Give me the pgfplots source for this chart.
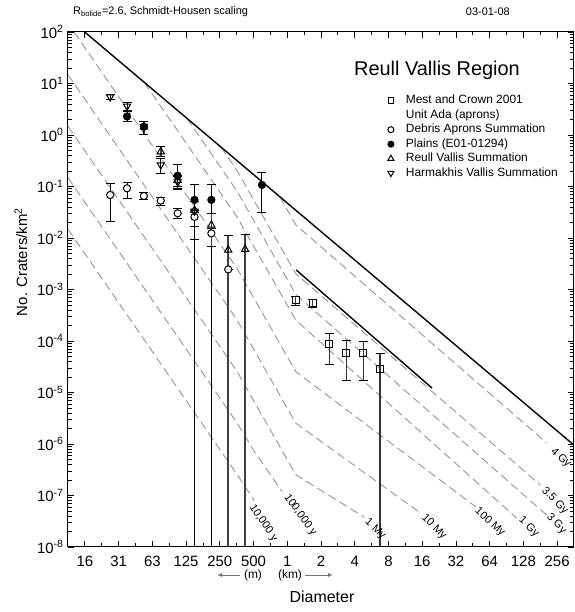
\documentclass[border=0pt]{standalone}
\usepackage{fontspec}
\setmainfont{Liberation Sans}
\usepackage{pgfplots}
\pgfplotsset{compat=1.18}
\usetikzlibrary{arrows.meta}
\begin{document}
\begin{tikzpicture}[x=1bp,y=1bp, lab/.style={font=\fontsize{11}{12}\selectfont, inner sep=0pt}]
\begin{axis}[
  at={(0bp,0bp)}, anchor=south west,
  scale only axis, width=506bp, height=515bp,
  xmin=-6.5, xmax=8.5, ymin=-8, ymax=2,
  xtick={-6,-5,-4,-3,-2,-1,0,1,2,3,4,5,6,7,8},
  xticklabels={16,31,63,125,250,500,1,2,4,8,16,32,64,128,256},
  minor xtick={-5.5,-4.5,-3.5,-2.5,-1.5,-0.5,0.5,1.5,2.5,3.5,4.5,5.5,6.5,7.5},
  ytick={-8,-7,-6,-5,-4,-3,-2,-1,0,1,2},
  yticklabels={10\textsuperscript{-8},10\textsuperscript{-7},10\textsuperscript{-6},10\textsuperscript{-5},10\textsuperscript{-4},10\textsuperscript{-3},10\textsuperscript{-2},10\textsuperscript{-1},10\textsuperscript{0},10\textsuperscript{1},10\textsuperscript{2}},
  minor ytick={-7.699,-7.523,-7.398,-7.301,-7.222,-7.155,-7.097,-7.046,
  -6.699,-6.523,-6.398,-6.301,-6.222,-6.155,-6.097,-6.046,
  -5.699,-5.523,-5.398,-5.301,-5.222,-5.155,-5.097,-5.046,
  -4.699,-4.523,-4.398,-4.301,-4.222,-4.155,-4.097,-4.046,
  -3.699,-3.523,-3.398,-3.301,-3.222,-3.155,-3.097,-3.046,
  -2.699,-2.523,-2.398,-2.301,-2.222,-2.155,-2.097,-2.046,
  -1.699,-1.523,-1.398,-1.301,-1.222,-1.155,-1.097,-1.046,
  -0.699,-0.523,-0.398,-0.301,-0.222,-0.155,-0.097,-0.046,
  0.301,0.477,0.602,0.699,0.778,0.845,0.903,0.954,
  1.301,1.477,1.602,1.699,1.778,1.845,1.903,1.954},
  tick align=inside,
  major tick length=6bp, minor tick length=3.5bp,
  every tick/.style={black, line width=0.8bp},
  axis line style={line width=1bp},
  tick label style={font=\fontsize{15}{15}\selectfont},
  xticklabel style={yshift=-6bp},
  yticklabel style={xshift=-1bp},
  iso/.style={color=black!42, line width=0.9bp, dash pattern=on 8.5bp off 4.5bp, forget plot},
  sat/.style={black, line width=1.4bp, forget plot},
  legend style={at={(0.618,0.885)}, anchor=north west, draw=none, fill=none,
    font=\fontsize{12}{14}\selectfont, row sep=0pt,
    nodes={inner ysep=1bp, text height=9.5bp, text depth=3bp}},
  legend cell align=left,
  legend image code/.code={\path[draw=none] (0bp,0bp) -- (20bp,0bp); \draw[#1] plot coordinates {(7bp,0bp)};},
  error bars/error bar style={black, line width=1bp},
  error bars/error mark options={rotate=90, black, mark size=4.5bp, line width=1bp},
]
% isochrons
\addplot[iso] coordinates {(-6.5,-1.83) (-6,-2.305) (-5,-3.255) (-4,-4.205) (-3,-5.155) (-2,-6.105) (-1.5,-6.58) (-0.976,-7.10)};
\addplot[iso] coordinates {(-6.5,-0.83) (-6,-1.305) (-5,-2.255) (-4,-3.205) (-3,-4.155) (-2,-5.105) (-1.5,-5.58) (-1,-6.12) (-0.15,-6.93)};
\addplot[iso] coordinates {(-6.5,0.17) (-6,-0.305) (-5,-1.255) (-4,-2.205) (-3,-3.155) (-2,-4.105) (-1.5,-4.58) (-1,-5.155) (-0.5,-5.73) (0,-6.305) (0.26,-6.60) (2.28,-7.42)};
\addplot[iso] coordinates {(-6.5,1.17) (-6,0.695) (-5,-0.255) (-4,-1.205) (-3,-2.155) (-2,-3.105) (-1.5,-3.58) (-1,-4.155) (-0.5,-4.73) (0,-5.305) (0.26,-5.60) (3.905,-7.32)};
\addplot[iso] coordinates {(-6.32,2) (-6,1.695) (-5,0.745) (-4,-0.205) (-3,-1.155) (-2,-2.105) (-1.5,-2.58) (-1,-3.155) (-0.5,-3.73) (0,-4.305) (0.26,-4.60) (5.59,-7.22)};
\addplot[iso] coordinates {(-4.24,1.02) (-4,0.795) (-3,-0.155) (-2,-1.105) (-1.5,-1.58) (-1,-2.155) (-0.5,-2.73) (0,-3.305) (0.26,-3.60) (6.80,-7.44)};
\addplot[iso] coordinates {(-2.98,0.327) (-2,-0.605) (-1.5,-1.08) (-1,-1.655) (-0.5,-2.23) (0,-2.805) (0.26,-3.10) (7.69,-7.38)};
\addplot[iso] coordinates {(-1.975,-0.229) (-1.5,-0.68) (-1,-1.255) (-0.5,-1.83) (0,-2.405) (0.26,-2.70) (7.51,-6.80)};
\addplot[iso] coordinates {(-0.224,-1.197) (0,-1.455) (0.26,-1.75) (7.69,-5.98)};
% saturation lines
\addplot[sat] coordinates {(-6.006,2) (8.5,-6.022)};
\addplot[sat] coordinates {(0.266,-2.621) (4.29,-4.913)};
% data
\addplot[forget plot, only marks, mark=square, mark size=3.5bp, mark options={fill=white, line width=1bp}, error bars/.cd, y dir=both, y explicit, error bar style={black!80, line width=1.1bp}]
 table[x=u, y=v, y error plus=ep, y error minus=em] {
u v ep em
0.25 -3.204 0.06 0.10
0.75 -3.256 0.06 0.10
1.25 -4.06 0.20 0.39
1.75 -4.24 0.25 0.53
2.25 -4.24 0.23 0.53
2.75 -4.54 0.30 10
};
\addplot[forget plot, only marks, mark=*, mark size=3.6bp, mark options={fill=white, line width=1bp}, error bars/.cd, y dir=both, y explicit]
 table[x=u, y=v, y error plus=ep, y error minus=em] {
u v ep em
-5.25 -1.165 0.225 0.52
-4.75 -1.035 0.11 0.19
-4.25 -1.184 0.064 0.076
-3.75 -1.275 0.065 0.085
-3.25 -1.52 0.10 0.10
-2.75 -1.59 0.13 0.44
-2.25 -1.91 0.10 0.26
-1.75 -2.61 0 0
};
\addplot[forget plot, only marks, mark=*, mark size=3.6bp, mark options={fill=black, line width=1bp}, error bars/.cd, y dir=both, y explicit]
 table[x=u, y=v, y error plus=ep, y error minus=em] {
u v ep em
-4.75 0.36 0.11 0.10
-4.25 0.16 0.10 0.16
-3.25 -0.79 0.21 0.25
-2.75 -1.26 0.29 10
-2.25 -1.26 0.29 10
-0.75 -0.97 0.24 0.53
};
\addplot[forget plot, only marks, mark=triangle, mark size=4.2bp, mark options={fill=white, line width=1bp}, error bars/.cd, y dir=both, y explicit, error bar style={black!75, line width=1.6bp}]
 table[x=u, y=v, y error plus=ep, y error minus=em] {
u v ep em
-4.25 0.16 0.10 0.16
-3.75 -0.324 0.097 0.097
-3.25 -0.88 0.10 0.12
-2.75 -1.46 0.16 0.32
-2.25 -1.75 0.22 0.42
-1.75 -2.233 0.29 10
-1.25 -2.22 0.28 10
};
\addplot[forget plot, only marks, mark=triangle, mark size=4.2bp, mark options={rotate=180, fill=white, line width=1bp}, error bars/.cd, y dir=both, y explicit]
 table[x=u, y=v, y error plus=ep, y error minus=em] {
u v ep em
-5.25 0.74 0.05 0.06
-4.75 0.56 0.07 0.10
-4.25 0.16 0.10 0.16
-3.75 -0.58 0.13 0.16
-3.25 -0.91 0.11 0.14
-2.75 -1.48 0.18 0.30
};
% legend
\addlegendimage{only marks, mark=square, mark size=2.8bp, mark options={fill=white, line width=1bp}}
\addlegendentry{Mest and Crown 2001}
\addlegendimage{empty legend}
\addlegendentry{Unit Ada (aprons)}
\addlegendimage{only marks, mark=*, mark size=3bp, mark options={fill=white, line width=1bp}}
\addlegendentry{Debris Aprons Summation}
\addlegendimage{only marks, mark=*, mark size=3bp, mark options={fill=black, line width=1bp}}
\addlegendentry{Plains (E01-01294)}
\addlegendimage{only marks, mark=triangle, mark size=3.5bp, mark options={fill=white, line width=1bp}}
\addlegendentry{Reull Vallis Summation}
\addlegendimage{only marks, mark=triangle, mark size=3.5bp, mark options={rotate=180, fill=white, line width=1bp}}
\addlegendentry{Harmakhis Vallis Summation}
% isochron labels
\node[lab, rotate=-56] at (axis cs:-0.71,-7.534) {10,000 y};
\node[lab, rotate=-54] at (axis cs:0.385,-7.379) {100,000 y};
\node[lab, rotate=-42] at (axis cs:2.604,-7.650) {1 My};
\node[lab, rotate=-44] at (axis cs:4.349,-7.612) {10 My};
\node[lab, rotate=-42] at (axis cs:6.006,-7.515) {100 My};
\node[lab, rotate=-44] at (axis cs:7.16,-7.612) {1 Gy};
\node[lab, rotate=-46] at (axis cs:7.98,-7.55) {3 Gy};
\node[lab, rotate=-45] at (axis cs:7.93,-7.10) {3.5 Gy};
\node[lab, rotate=-42] at (axis cs:8.107,-6.27) {4 Gy};
\end{axis}
% texts outside
\node[font=\fontsize{20}{22}\selectfont] at (369bp,477bp) {Reull Vallis Region};
\node[anchor=west, font=\fontsize{11}{12}\selectfont, inner sep=0pt] at (5bp,535bp) {R\textsubscript{bolide}=2.6, Schmidt-Housen scaling};
\node[anchor=east, font=\fontsize{11}{12}\selectfont, inner sep=0pt] at (442bp,535bp) {03-01-08};
\node[rotate=90, font=\fontsize{15}{16}\selectfont] at (-47bp,285bp) {No. Craters/km\textsuperscript{2}};
\node[font=\fontsize{16}{17}\selectfont] at (254bp,-50bp) {Diameter};
\node[font=\fontsize{12}{13}\selectfont, inner sep=0pt] at (185bp,-28bp) {(m)};
\node[font=\fontsize{12}{13}\selectfont, inner sep=0pt] at (222bp,-28bp) {(km)};
\draw[black!55, line width=0.9bp, -{Latex[length=5bp,width=4bp]}] (172bp,-28bp) -- (149bp,-28bp);
\draw[black!55, line width=0.9bp, -{Latex[length=5bp,width=4bp]}] (237bp,-28bp) -- (265bp,-28bp);
\pgfresetboundingbox
\path[use as bounding box] (-68bp,-65bp) rectangle (507bp,547bp);
\end{tikzpicture}
\end{document}
